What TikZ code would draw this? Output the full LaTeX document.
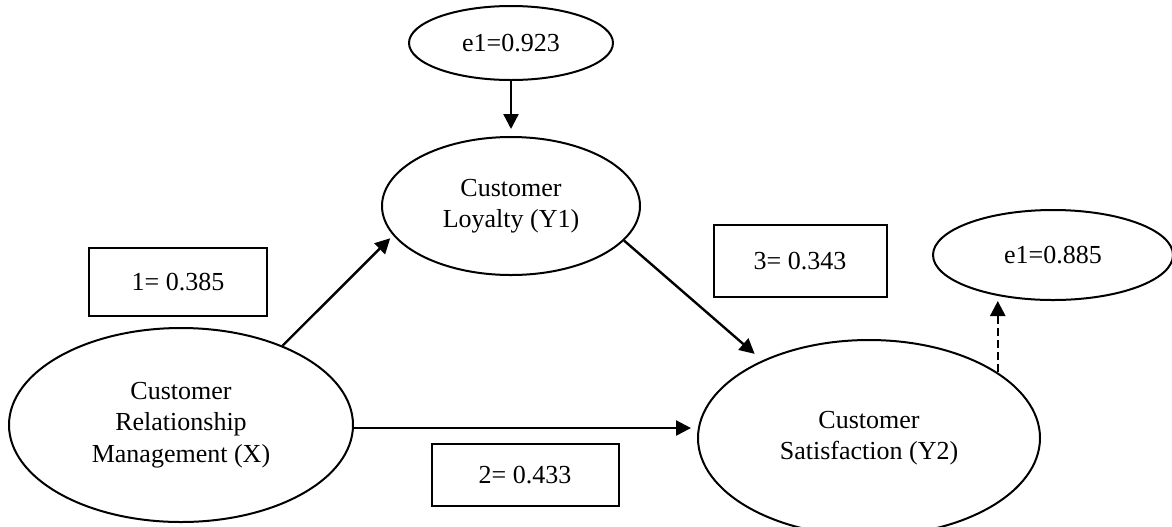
\documentclass[tikz,border=0pt]{standalone}
\usepackage{fontspec}
\setmainfont{Liberation Serif}
\usepackage{tikz}
\usetikzlibrary{arrows.meta,shapes.geometric}
\tikzset{
  % --- path model styles ---
  latentnode/.style 2 args={ellipse, draw=black, line width=1pt, inner sep=0pt, align=center, font=\fontsize{13}{15.75}\selectfont, minimum width=#1, minimum height=#2},
  coefbox/.style 2 args={rectangle, draw=black, line width=1pt, inner sep=0pt, align=center, font=\fontsize{13}{15.75}\selectfont, minimum width=#1, minimum height=#2},
  patharrow/.style={-{Triangle[length=7.5pt,width=7.5pt]}, line width=1.2pt},
  errarrow/.style={patharrow, dash pattern=on 4pt off 2pt},
}

\begin{document}
\begin{tikzpicture}[x=0.5pt,y=-0.5pt]
  \useasboundingbox (0,0) rectangle (1172,526);

  \node[latentnode={102pt}{37pt}] (errLoy) at (511,43) {e1=0.923};
  \node[latentnode={129pt}{69pt}] (loy) at (511,206) {Customer\\Loyalty (Y1)};
  \node[latentnode={172pt}{97pt}] (crm) at (181,425) {Customer\\Relationship\\Management (X)};
  \node[latentnode={171pt}{98pt}] (sat) at (869,438) {Customer\\Satisfaction (Y2)};
  \node[latentnode={120pt}{45pt}] (errSat) at (1053,255) {e1=0.885};

  \node[coefbox={89pt}{34pt}] (coefA) at (178,282) {1= 0.385};
  \node[coefbox={93.5pt}{31pt}] (coefB) at (525,475) {2= 0.433};
  \node[coefbox={86.5pt}{36pt}] (coefC) at (800,261) {3= 0.343};

  \draw[patharrow, shorten >=3.5pt] (errLoy.south) -- (loy.north);
  \draw[patharrow, shorten >=2pt] (crm.38) -- (loy.194);
  \draw[patharrow, shorten >=5pt] (loy.343) -- (sat.144);
  \draw[patharrow, shorten >=3pt] (crm.-1) -- (crm.-1 -| sat.west);
  \draw[errarrow] (sat.27) -- (sat.27 |- errSat.south);
\end{tikzpicture}
\end{document}
